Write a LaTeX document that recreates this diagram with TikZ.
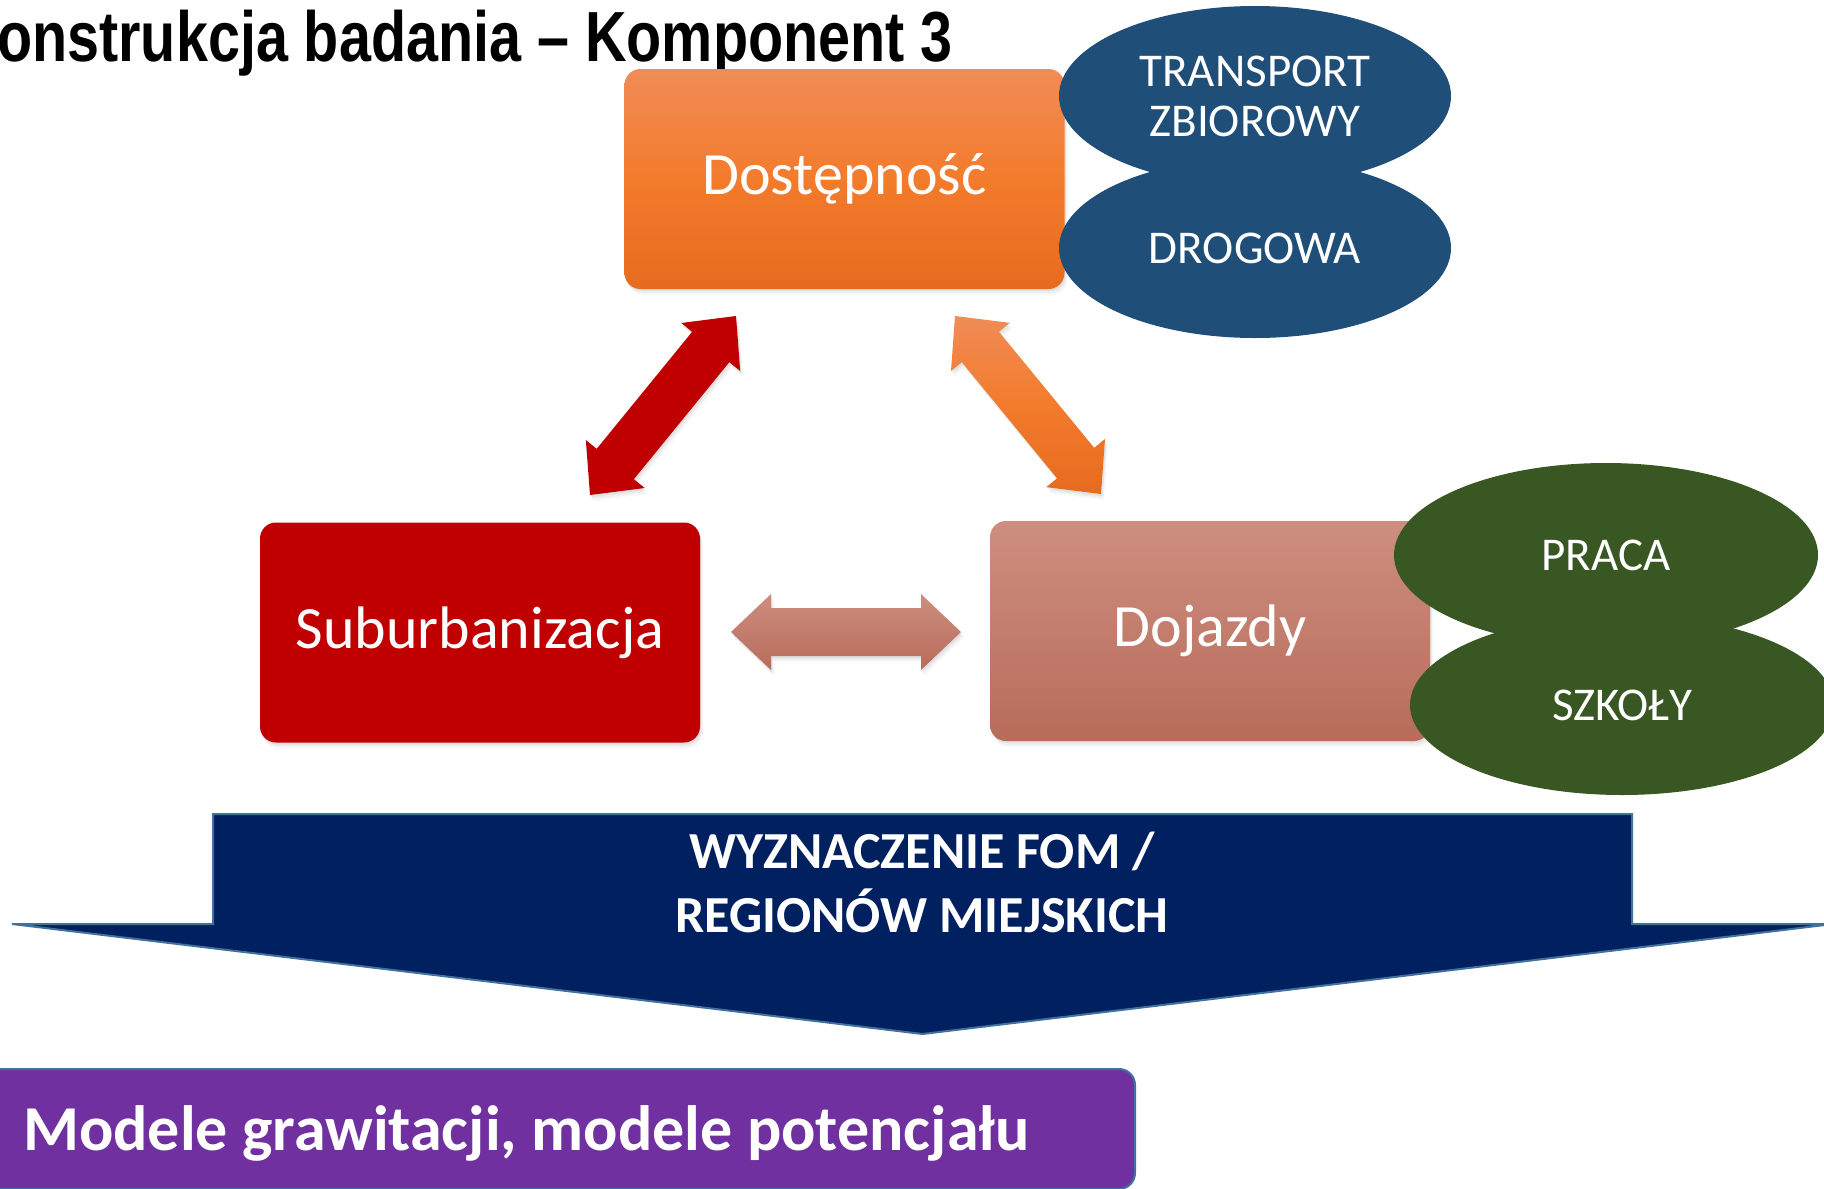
\documentclass[tikz,border=0pt]{standalone}
\usepackage{fontspec}
\setmainfont{Carlito}
\newfontfamily\titlefont[FakeStretch=0.81]{Liberation Sans}
\usetikzlibrary{shapes.geometric,shadows,calc}
\definecolor{orTop}{HTML}{F08C56}
\definecolor{orMid}{HTML}{F37B2C}
\definecolor{orBot}{HTML}{E66B1E}
\definecolor{subRed}{HTML}{C00000}
\definecolor{dojTop}{HTML}{CD8E80}
\definecolor{dojBot}{HTML}{B86C5A}
\definecolor{blueEl}{HTML}{1F4E79}
\definecolor{greenEl}{HTML}{385723}
\definecolor{navy}{HTML}{002060}
\definecolor{arrowLine}{HTML}{41719C}
\definecolor{purp}{HTML}{7030A0}
\newcommand\blockdbl[3]{%
  \pgfpointdiff{\pgfpointanchor{#1}{center}}{\pgfpointanchor{#2}{center}}%
  \pgfgetlastxy\bdx\bdy
  \pgfmathsetmacro\bdang{atan2(\bdy,\bdx)}%
  \pgfmathsetmacro\bdlen{veclen(\bdx,\bdy)}%
  \begin{scope}[shift={(#1)},rotate=\bdang]
    \path[#3] (0,0) -- (40,38) -- (40,24) -- (\bdlen-40,24) -- (\bdlen-40,38) -- (\bdlen,0)
      -- (\bdlen-40,-38) -- (\bdlen-40,-24) -- (40,-24) -- (40,-38) -- cycle;
  \end{scope}}
\begin{document}
\begin{tikzpicture}[x=1pt,y=-1pt,
  softshadow/.style={
    drop shadow={shadow xshift=1pt, shadow yshift=-2pt, opacity=0.12},
    drop shadow={shadow xshift=2pt, shadow yshift=-4pt, opacity=0.09},
    drop shadow={shadow xshift=3pt, shadow yshift=-6pt, opacity=0.06}},
  box/.style={rectangle, rounded corners=16pt, minimum width=440pt, minimum height=220pt,
    inner sep=0pt, text=white, font=\fontsize{60}{72}\selectfont, softshadow},
  blob/.style={ellipse, inner sep=2pt, text=white, align=center, font=\fontsize{47}{50}\selectfont},
]
\useasboundingbox (0,0) rectangle (1824,1189);
\clip (0,0) rectangle (1824,1189);

\node[anchor=base west, inner sep=0pt, font=\titlefont\bfseries\fontsize{71}{80}\selectfont] (title) at (-3,61) {onstrukcja badania – Komponent 3};

\node[box, top color=orTop, bottom color=orBot, middle color=orMid] (dost) at (844.5,179) {Dostępność};
\node[box, fill=subRed] (sub) at (480,632.5) {Suburbanizacja};
\node[box, top color=dojTop, bottom color=dojBot] (doj) at (1210,631) {Dojazdy};

\node[blob, fill=blueEl, minimum width=392pt, minimum height=180pt] (tz) at (1255,96) {TRANSPORT\\ZBIOROWY};
\node[blob, fill=blueEl, minimum width=392pt, minimum height=180pt] (drog) at (1255,248) {DROGOWA};
\node[blob, fill=greenEl, minimum width=424pt, minimum height=184pt] (praca) at (1606,555) {PRACA};
\node[blob, fill=greenEl, minimum width=424pt, minimum height=180pt] (szk) at (1622,705) {SZKOŁY};

\coordinate (rA) at (590,495); \coordinate (rB) at (736,316);
\coordinate (oA) at (955,316); \coordinate (oB) at (1101,494);
\coordinate (hA) at (731,632); \coordinate (hB) at (961,632);
\blockdbl{rA}{rB}{fill=subRed, softshadow}
\blockdbl{oA}{oB}{top color=orTop, bottom color=orBot, middle color=orMid, softshadow}
\blockdbl{hA}{hB}{top color=dojTop, bottom color=dojBot, softshadow}

\path[fill=navy, draw=arrowLine, line width=2pt] (213,814) -- (1632,814) -- (1632,924) -- (1833,924)
  -- (922.5,1034) -- (12,924) -- (213,924) -- cycle;
\node[text=white, font=\bfseries\fontsize{52}{64}\selectfont, align=center] (fom) at (922,882) {WYZNACZENIE FOM /\\REGIONÓW MIEJSKICH};

\node[fill=purp, draw=arrowLine, line width=2pt, rounded corners=16pt, minimum width=1164pt, minimum height=120pt,
  anchor=north west, inner sep=0pt] (modbox) at (-30,1068) {};
\node[anchor=base west, text=white, font=\bfseries\fontsize{64}{70}\selectfont, inner sep=0pt] (models) at (23,1150) {Modele grawitacji, modele potencjału};
\end{tikzpicture}
\end{document}
